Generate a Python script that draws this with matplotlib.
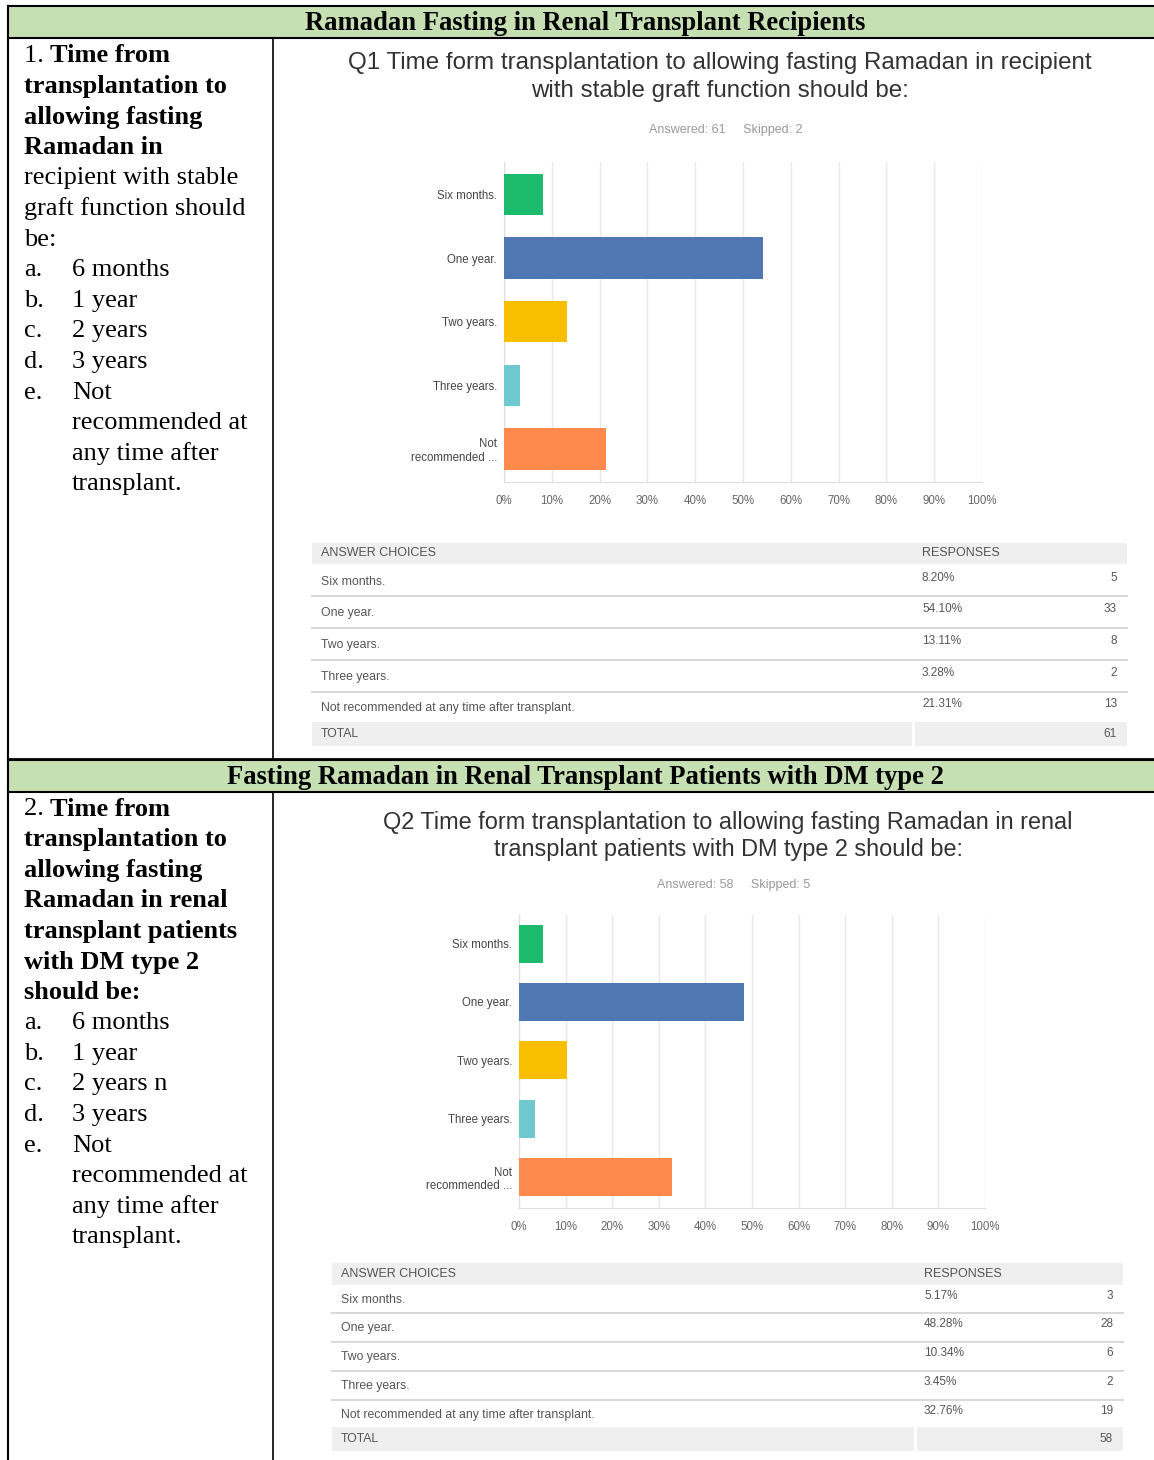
import matplotlib.pyplot as plt
from matplotlib.patches import Rectangle

W, H = 1154, 1460

# survey data
choices = ["Six months.", "One year.", "Two years.", "Three years.", "Not\nrecommended ..."]
table_choices = ["Six months.", "One year.", "Two years.", "Three years.",
                 "Not recommended at any time after transplant."]
bar_colors = ["#1dbb6c", "#4f78b3", "#f8be00", "#6ec8ce", "#fd8a4c"]

q1_pct = [8.20, 54.10, 13.11, 3.28, 21.31]
q1_counts = [5, 33, 8, 2, 13]
q1_answered, q1_skipped = 61, 2

q2_pct = [5.17, 48.28, 10.34, 3.45, 32.76]
q2_counts = [3, 28, 6, 2, 19]
q2_answered, q2_skipped = 58, 5

xticks = list(range(0, 101, 10))
xtick_labels = [f"{t}%" for t in xticks]

q1_title = "Q1 Time form transplantation to allowing fasting Ramadan in recipient\nwith stable graft function should be:"
q2_title = "Q2 Time form transplantation to allowing fasting Ramadan in renal\ntransplant patients with DM type 2 should be:"

header1 = "Ramadan Fasting in Renal Transplant Recipients"
header2 = "Fasting Ramadan in Renal Transplant Patients with DM type 2"

# left column lines: (prefix, text, bold, indent)
left1 = [
    ("1. ", "Time from", True, False),
    ("", "transplantation to", True, False),
    ("", "allowing fasting", True, False),
    ("", "Ramadan in", True, False),
    ("", "recipient with stable", False, False),
    ("", "graft function should", False, False),
    ("", "be:", False, False),
    ("a.", "6 months", False, True),
    ("b.", "1 year", False, True),
    ("c.", "2 years", False, True),
    ("d.", "3 years", False, True),
    ("e.", "Not", False, True),
    ("", "recommended at", False, True),
    ("", "any time after", False, True),
    ("", "transplant.", False, True),
]
left2 = [
    ("2. ", "Time from", True, False),
    ("", "transplantation to", True, False),
    ("", "allowing fasting", True, False),
    ("", "Ramadan in renal", True, False),
    ("", "transplant patients", True, False),
    ("", "with DM type 2", True, False),
    ("", "should be:", True, False),
    ("a.", "6 months", False, True),
    ("b.", "1 year", False, True),
    ("c.", "2 years n", False, True),
    ("d.", "3 years", False, True),
    ("e.", "Not", False, True),
    ("", "recommended at", False, True),
    ("", "any time after", False, True),
    ("", "transplant.", False, True),
]

SERIF = "Liberation Serif"
SANS = "Liberation Sans"

fig = plt.figure(figsize=(W / 100, H / 100), dpi=100)
bg = fig.add_axes([0, 0, 1, 1])
bg.set_xlim(0, W)
bg.set_ylim(H, 0)
bg.axis("off")
bg.set_zorder(0)

# table frame
green = "#c6e0b4"
for top, bot in [(6, 38), (760, 792)]:
    bg.add_patch(Rectangle((8, top), W - 8, bot - top, facecolor=green, edgecolor="none"))
    bg.plot([8, W], [top, top], color="black", lw=1.5)
    bg.plot([8, W], [bot, bot], color="black", lw=1.5)
bg.plot([8, 8], [6, H], color="black", lw=1.5)
bg.plot([273, 273], [38, 760], color="black", lw=1.2)
bg.plot([273, 273], [792, H], color="black", lw=1.2)
bg.plot([8, W], [759, 759], color="black", lw=2)

bg.text(585, 23, header1, family=SERIF, weight="bold", fontsize=19.2,
        ha="center", va="center")
bg.text(585, 777, header2, family=SERIF, weight="bold", fontsize=19.2,
        ha="center", va="center")


def draw_left(lines, y0):
    for i, (pre, txt, bold, indent) in enumerate(lines):
        y = y0 + i * 30.6
        w = "bold" if bold else "normal"
        if indent:
            if pre:
                bg.text(24, y, pre, family=SERIF, fontsize=19, ha="left", va="center")
            bg.text(72, y, txt, family=SERIF, fontsize=19, weight=w, ha="left", va="center")
        elif pre:
            t = bg.text(24, y, pre, family=SERIF, fontsize=19, ha="left", va="center")
            bg.annotate(txt, xycoords=t, xy=(1, 0.5), va="center", ha="left",
                        family=SERIF, fontsize=19, weight=w)
        else:
            bg.text(24, y, txt, family=SERIF, fontsize=19, weight=w, ha="left", va="center")


draw_left(left1, 56)
draw_left(left2, 809)


def draw_chart(pct, left, right, top, bottom, ylim):
    ax = fig.add_axes([left / W, 1 - bottom / H, (right - left) / W, (bottom - top) / H])
    ax.set_zorder(1)
    ax.patch.set_alpha(0)
    y = list(range(len(pct)))
    ax.barh(y, pct, height=0.65, color=bar_colors, zorder=3)
    ax.set_xlim(0, 100)
    ax.set_ylim(*ylim)
    ax.set_xticks(xticks)
    ax.set_xticklabels(xtick_labels, family=SANS, fontsize=8.3, color="#666")
    ax.set_yticks(y)
    ax.set_yticklabels(choices, family=SANS, fontsize=8.3, color="#444")
    ax.tick_params(axis="y", length=0, pad=5)
    ax.tick_params(axis="x", length=0, pad=9)
    ax.grid(axis="x", color="#e6e6e6", lw=1, zorder=0)
    for s in ["top", "right"]:
        ax.spines[s].set_visible(False)
    ax.spines["left"].set_color("#dddddd")
    ax.spines["bottom"].set_color("#dddddd")
    return ax


draw_chart(q1_pct, 504, 982, 162, 482, (4.52, -0.51))
draw_chart(q2_pct, 519, 985, 915, 1208, (4.53, -0.49))

# titles and answered text
bg.text(720, 77, q1_title, family=SANS, fontsize=17.4, color="#333", ha="center",
        va="center", linespacing=1.38)
bg.text(726, 130, f"Answered: {q1_answered}     Skipped: {q1_skipped}", family=SANS,
        fontsize=9, color="#999", ha="center", va="center")
bg.text(728, 836, q2_title, family=SANS, fontsize=16.9, color="#333", ha="center",
        va="center", linespacing=1.25)
bg.text(734, 885, f"Answered: {q2_answered}     Skipped: {q2_skipped}", family=SANS,
        fontsize=9, color="#999", ha="center", va="center")


def draw_table(pct, counts, x0, x1, xr, head_top, head_bot, rows_y, seps, tot_top, tot_bot):
    band = "#efefef"
    bg.add_patch(Rectangle((x0, head_top), x1 - x0, head_bot - head_top, facecolor=band, edgecolor="none"))
    mid = (head_top + head_bot) / 2
    bg.text(x0 + 9, mid, "ANSWER CHOICES", family=SANS, fontsize=9, color="#555", ha="left", va="center")
    bg.text(xr, mid, "RESPONSES", family=SANS, fontsize=9, color="#555", ha="left", va="center")
    for ys in seps:
        bg.plot([x0, x1], [ys, ys], color="#d9d9d9", lw=1.5)
    for i, yy in enumerate(rows_y):
        bg.text(x0 + 9, yy, table_choices[i], family=SANS, fontsize=8.8, color="#555", ha="left", va="center")
        bg.text(xr, yy - 4, f"{pct[i]:.2f}%", family=SANS, fontsize=8.5, color="#555", ha="left", va="center")
        bg.text(x1 - 10, yy - 4, str(counts[i]), family=SANS, fontsize=8.5, color="#555", ha="right", va="center")
    bg.add_patch(Rectangle((x0, tot_top), xr - 10 - x0, tot_bot - tot_top, facecolor=band, edgecolor="none"))
    bg.add_patch(Rectangle((xr - 7, tot_top), x1 - xr + 7, tot_bot - tot_top, facecolor=band, edgecolor="none"))
    tm = (tot_top + tot_bot) / 2
    bg.text(x0 + 9, tm, "TOTAL", family=SANS, fontsize=8.8, color="#555", ha="left", va="center")
    bg.text(x1 - 10, tm, str(sum(counts)), family=SANS, fontsize=8.5, color="#555", ha="right", va="center")


draw_table(q1_pct, q1_counts, 312, 1127, 922, 543, 564,
           [582, 613, 645, 677, 708], [596, 628, 660, 692], 722, 746)
draw_table(q2_pct, q2_counts, 332, 1123, 924, 1263, 1285,
           [1300, 1328, 1357, 1386, 1415], [1313, 1342, 1371, 1400], 1427, 1451)

fig.savefig("out.png", dpi=100)
